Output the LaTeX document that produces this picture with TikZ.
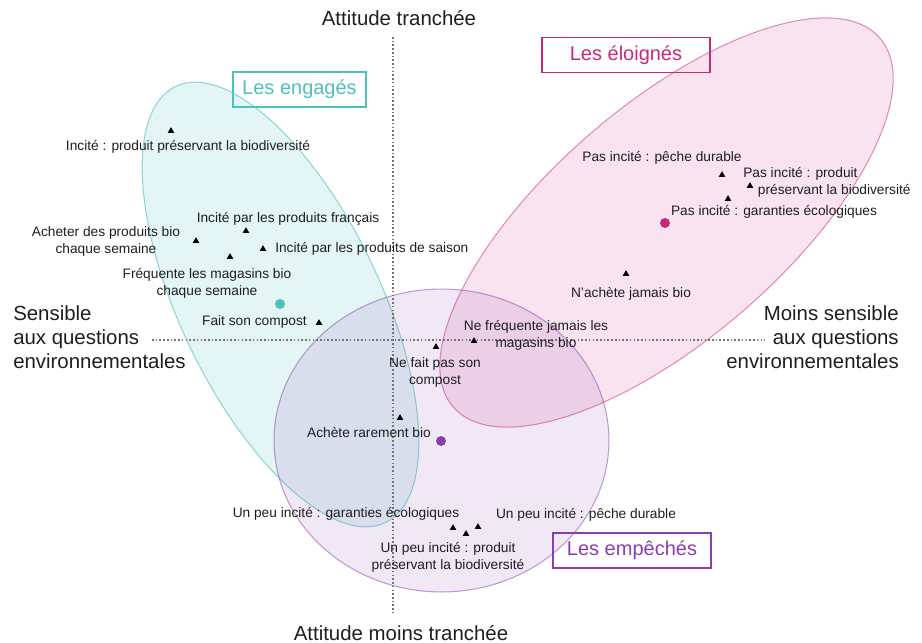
\documentclass[tikz,border=0pt]{standalone}
\usepackage{fontspec}
\setmainfont{Liberation Sans}
\usetikzlibrary{shapes.geometric}
\definecolor{tealc}{HTML}{4FC0BB}
\definecolor{pinkc}{HTML}{C8287A}
\definecolor{purpc}{HTML}{8A3EAE}
\definecolor{txt}{HTML}{1E1E1E}
\tikzset{
  small/.style={font=\fontsize{10.3pt}{12.75pt}\selectfont, text=txt, inner sep=0pt, align=center},
  big/.style={font=\fontsize{15.3pt}{18pt}\selectfont, text=txt, inner sep=0pt},
  tri/.style={regular polygon, regular polygon sides=3, fill=black, inner sep=0pt, minimum size=5.8pt},
  dot/.style={circle, inner sep=0pt, minimum size=7.5pt},
  grp/.style={draw, line width=0.8pt, font=\fontsize{15pt}{18pt}\selectfont, minimum height=26.25pt, inner sep=0pt},
  axisline/.style={black!55, line width=0.8pt, dash pattern=on 1.2pt off 1.6pt},
}
\begin{document}
\begin{tikzpicture}[x=0.75pt,y=-0.75pt]
\useasboundingbox (0,0) rectangle (922,643);
% clusters
\begin{scope}[shift={(280.5,304.5)}, rotate=-64.3]
  \fill[tealc, opacity=0.16] (0,0) ellipse [x radius=181.5pt, y radius=75pt];
  \draw[tealc, opacity=0.6, line width=0.8pt] (0,0) ellipse [x radius=181.5pt, y radius=75pt];
\end{scope}
\begin{scope}[shift={(666.5,222.5)}, rotate=40.85]
  \fill[pinkc, opacity=0.13] (0,0) ellipse [x radius=211.5pt, y radius=87.75pt];
  \draw[pinkc, opacity=0.5, line width=0.8pt] (0,0) ellipse [x radius=211.5pt, y radius=87.75pt];
\end{scope}
\fill[purpc, opacity=0.12] (441.5,440.5) ellipse [x radius=125.6pt, y radius=113.6pt];
\draw[purpc, opacity=0.5, line width=0.8pt] (441.5,440.5) ellipse [x radius=125.6pt, y radius=113.6pt];
% axes
\coordinate (vtop) at (393,37);
\coordinate (vbot) at (393,612);
\coordinate (hleft) at (152,340);
\coordinate (hright) at (765,340);
\draw[axisline] (vtop) -- (vbot);
\draw[axisline] (hleft) -- (hright);
\node[big] (ttop) at (399,18) {Attitude tranchée};
\node[big] (tbot) at (401,633) {Attitude moins tranchée};
\node[big, anchor=west, align=left] (tleft) at (13,337) {Sensible\\aux questions\\environnementales};
\node[big, anchor=east, align=right] (tright) at (899,337) {Moins sensible\\aux questions\\environnementales};
% group labels
\node[grp, draw=tealc, text=tealc, minimum width=99.75pt] (g1) at (299.5,89.5) {Les engagés};
\node[grp, draw=pinkc, text=pinkc, minimum width=126pt] (g2) at (626,55) {Les éloignés};
\node[grp, draw=purpc, text=purpc, minimum width=118.5pt] (g3) at (632,550.5) {Les empêchés};
% centroids
\node[dot, fill=tealc] (c1) at (280,304) {};
\node[dot, fill=pinkc] (c2) at (665,223) {};
\node[dot, fill=purpc] (c3) at (441,441) {};
% engages points
\node[tri] (p1) at (171,131) {};
\node[small] (l1) at (188,147) {Incité : produit préservant la biodiversité};
\node[tri] (p2) at (246,231) {};
\node[small] (l2) at (288,219) {Incité par les produits français};
\node[tri] (p3) at (196,241) {};
\node[small] (l3) at (106,241) {Acheter des produits bio\\chaque semaine};
\node[tri] (p4) at (263,249) {};
\node[small, anchor=west] (l4) at (275,249) {Incité par les produits de saison};
\node[tri] (p5) at (230,257) {};
\node[small] (l5) at (207,283) {Fréquente les magasins bio\\chaque semaine};
\node[tri] (p6) at (319,323) {};
\node[small, anchor=east] (l6) at (307,322) {Fait son compost};
% center points
\node[tri] (p7) at (436,347) {};
\node[small] (l7) at (435,372) {Ne fait pas son\\compost};
\node[tri] (p8) at (474,341) {};
\node[small] (l8) at (536,335) {Ne fréquente jamais les\\magasins bio};
\node[tri] (p9) at (400,418) {};
\node[small] (l9) at (369,433) {Achète rarement bio};
% empeches points
\node[tri] (p10) at (453,528) {};
\node[small] (l10) at (346,514) {Un peu incité : garanties écologiques};
\node[tri] (p11) at (478,527) {};
\node[small] (l11) at (586,515) {Un peu incité : pêche durable};
\node[tri] (p12) at (466,534) {};
\node[small] (l12) at (448,557) {Un peu incité : produit\\préservant la biodiversité};
% eloignes points
\node[tri] (p13) at (722,175) {};
\node[small] (l13) at (662,158) {Pas incité : pêche durable};
\node[tri] (p14) at (750,186) {};
\node[small, anchor=west, align=left] (l14) at (743,182) {Pas incité : produit\\\hspace*{11pt}préservant la biodiversité};
\node[tri] (p15) at (728,199) {};
\node[small] (l15) at (774,212) {Pas incité : garanties écologiques};
\node[tri] (p16) at (626,274) {};
\node[small] (l16) at (631,294) {N’achète jamais bio};
\end{tikzpicture}
\end{document}
